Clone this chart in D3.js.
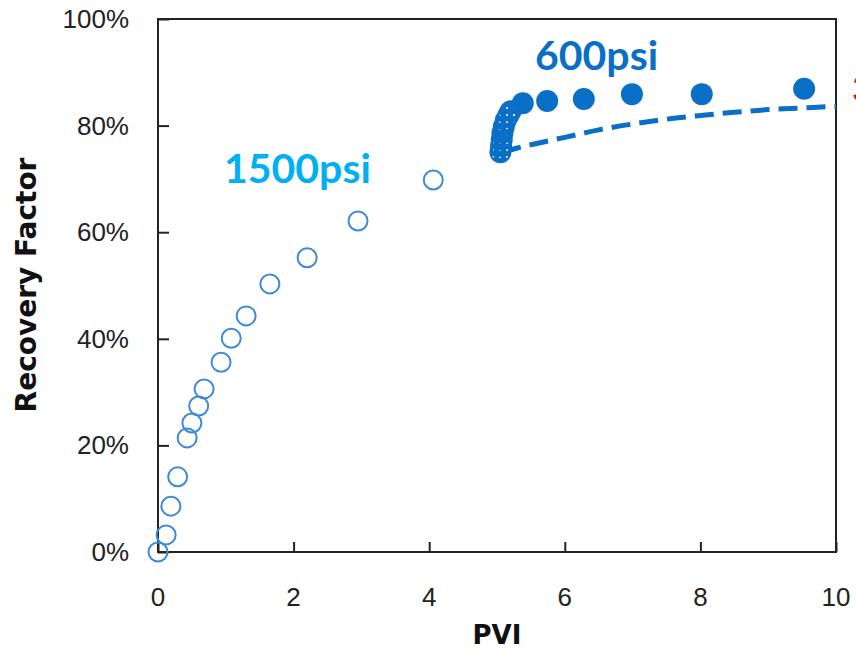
<!DOCTYPE html>
<html>
<head>
<meta charset="utf-8">
<script src="https://cdn.jsdelivr.net/npm/d3@7"></script>
<style>
	body { margin: 0; background: #fff; }
	svg { display: block; }
	.tick-label { font-family: "Liberation Sans", Arial, sans-serif; font-size: 26px; fill: #222; }
	.axis-title { font-family: "DejaVu Sans", Verdana, sans-serif; font-weight: bold; font-size: 26px; fill: #111; }
	.series-label { font-family: Lato, "Open Sans", sans-serif; font-weight: bold; font-size: 41px; }
</style>
</head>
<body>
<svg id="chart" width="856" height="650"></svg>
<script>
"use strict";

// 1500psi stage, open markers (PVI, recovery factor %)
var pvi1500 = [0, 0.12, 0.19, 0.29, 0.43, 0.5, 0.6, 0.68, 0.93, 1.08, 1.3, 1.65, 2.2, 2.95, 4.06];
var rf1500 = [0, 3.2, 8.6, 14.1, 21.4, 24.2, 27.4, 30.6, 35.6, 40.1, 44.3, 50.3, 55.2, 62.1, 69.8];

// pressure drop to 600psi, points bunched up right after the switch
var pviSwitch = [5.05, 5.06, 5.07, 5.08, 5.1, 5.13, 5.17, 5.2];
var rfSwitch = [75.0, 76.2, 77.4, 78.6, 79.8, 81.0, 82.0, 82.7];

// 600psi stage, filled markers
var pvi600 = [5.38, 5.74, 6.28, 6.99, 8.02, 9.53];
var rf600 = [84.2, 84.6, 85.0, 85.9, 85.9, 86.9];

// dashed curve
var pviCurve = [5.08, 5.3, 5.5, 6.0, 6.5, 7.0, 7.5, 8.0, 8.5, 9.0, 9.5, 10.0, 10.3];
var rfCurve = [75.0, 75.8, 76.4, 77.8, 79.2, 80.3, 81.2, 81.9, 82.5, 83.0, 83.3, 83.6, 83.7];

var xTicks = [0, 2, 4, 6, 8, 10];
var yTicks = [0, 20, 40, 60, 80, 100];

var plot = { left: 158, top: 19, right: 836, bottom: 552 };

var svg = d3.select("#chart");

var x = d3.scaleLinear().domain([0, 10]).range([plot.left, plot.right]);
var y = d3.scaleLinear().domain([0, 100]).range([plot.bottom, plot.top]);

function zip(xs, ys) {
	return xs.map(function(v, i) { return { pvi: v, rf: ys[i] }; });
}

// speckled fill for the crowded markers at the switch
var defs = svg.append("defs");
var pat = defs.append("pattern")
	.attr("id", "speckle")
	.attr("patternUnits", "userSpaceOnUse")
	.attr("width", 7).attr("height", 7);
pat.append("rect").attr("width", 7).attr("height", 7).attr("fill", "#0a6fc6");
pat.append("rect").attr("x", 2).attr("y", 2).attr("width", 2).attr("height", 2).attr("fill", "#dce9f8");

defs.append("clipPath").attr("id", "plotClip")
	.append("rect")
	.attr("x", plot.left).attr("y", plot.top)
	.attr("width", plot.right - plot.left).attr("height", plot.bottom - plot.top);

// axes with inward ticks, then a plain frame over them
var xAxis = d3.axisBottom(x).tickValues(xTicks).tickSizeInner(-10).tickSizeOuter(0).tickFormat("");
var yAxis = d3.axisLeft(y).tickValues(yTicks).tickSizeInner(-11).tickSizeOuter(0).tickFormat("");

var gx = svg.append("g").attr("transform", "translate(0," + plot.bottom + ")").call(xAxis);
var gy = svg.append("g").attr("transform", "translate(" + plot.left + ",0)").call(yAxis);
[gx, gy].forEach(function(g) {
	g.select(".domain").remove();
	g.selectAll(".tick line").attr("stroke", "#222").attr("stroke-width", 2);
});

svg.append("rect")
	.attr("x", plot.left).attr("y", plot.top)
	.attr("width", plot.right - plot.left).attr("height", plot.bottom - plot.top)
	.attr("fill", "none").attr("stroke", "#222").attr("stroke-width", 2);

svg.append("g").selectAll("text").data(xTicks).join("text")
	.attr("class", "tick-label")
	.attr("x", function(d) { return x(d); })
	.attr("y", 606)
	.attr("text-anchor", "middle")
	.text(function(d) { return d; });

svg.append("g").selectAll("text").data(yTicks).join("text")
	.attr("class", "tick-label")
	.attr("x", 129)
	.attr("y", function(d) { return y(d) + 9; })
	.attr("text-anchor", "end")
	.text(function(d) { return d + "%"; });

svg.append("text")
	.attr("class", "axis-title")
	.attr("x", 497).attr("y", 644)
	.attr("text-anchor", "middle")
	.text("PVI");

svg.append("text")
	.attr("class", "axis-title")
	.style("font-size", "28px")
	.attr("transform", "translate(36,285) rotate(-90)")
	.attr("text-anchor", "middle")
	.text("Recovery Factor");

// dashed curve
var line = d3.line()
	.x(function(d) { return x(d.pvi); })
	.y(function(d) { return y(d.rf); })
	.curve(d3.curveMonotoneX);

svg.append("path")
	.datum(zip(pviCurve, rfCurve))
	.attr("clip-path", "url(#plotClip)")
	.attr("d", line)
	.attr("fill", "none")
	.attr("stroke", "#0a6fc6")
	.attr("stroke-width", 5)
	.attr("stroke-dasharray", "19,9");

// markers
svg.append("g").selectAll("circle").data(zip(pvi1500, rf1500)).join("circle")
	.attr("cx", function(d) { return x(d.pvi); })
	.attr("cy", function(d) { return y(d.rf); })
	.attr("r", 9.5)
	.attr("fill", "none")
	.attr("stroke", "#3d8ad8")
	.attr("stroke-width", 2);

svg.append("g").selectAll("circle").data(zip(pviSwitch, rfSwitch)).join("circle")
	.attr("cx", function(d) { return x(d.pvi); })
	.attr("cy", function(d) { return y(d.rf); })
	.attr("r", 10)
	.attr("fill", "url(#speckle)")
	.attr("stroke", "#0a6fc6")
	.attr("stroke-width", 2);

svg.append("g").selectAll("circle").data(zip(pvi600, rf600)).join("circle")
	.attr("cx", function(d) { return x(d.pvi); })
	.attr("cy", function(d) { return y(d.rf); })
	.attr("r", 11)
	.attr("fill", "#0a6fc6");

// stage labels
svg.append("text").attr("class", "series-label")
	.attr("x", 224).attr("y", 183)
	.attr("fill", "#00b0f0")
	.text("1500psi");

svg.append("text").attr("class", "series-label")
	.attr("x", 535).attr("y", 70)
	.attr("fill", "#0a6fc6")
	.text("600psi");

// label of the next stage, cut off by the page edge as in the original
svg.append("text").attr("class", "series-label")
	.attr("x", 852).attr("y", 103)
	.attr("fill", "#e81010")
	.text("300psi");
</script>
</body>
</html>
